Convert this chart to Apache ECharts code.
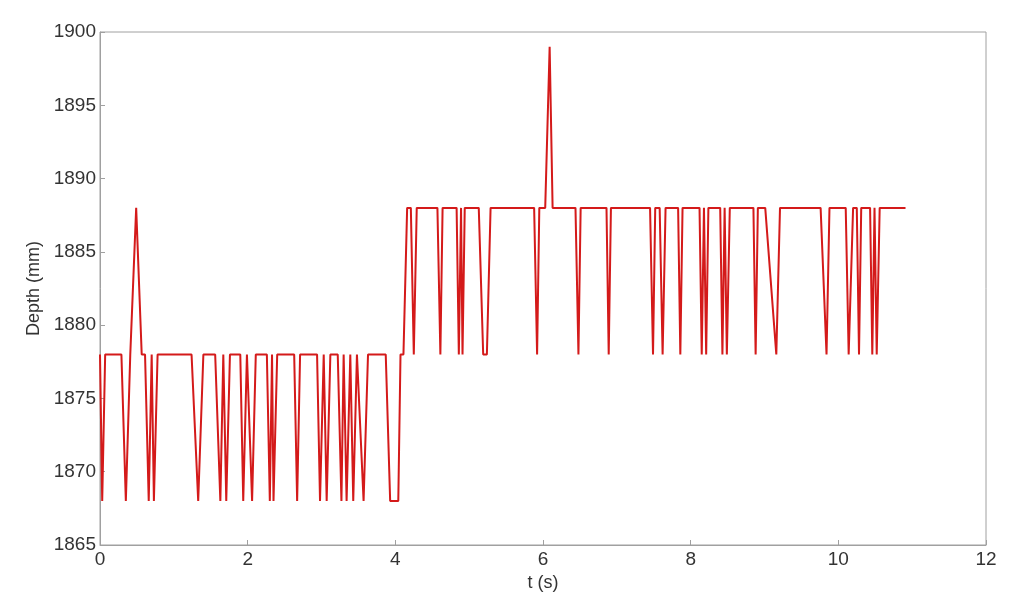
<!DOCTYPE html>
<html>
<head>
<meta charset="utf-8">
<script src="https://cdn.jsdelivr.net/npm/echarts@6/dist/echarts.min.js"></script>
<style>
html,body{margin:0;padding:0;background:#fff;}
#chart{width:1024px;height:615px;}
</style>
</head>
<body>
<div id="chart"></div>
<script>
// Time stamps (s) of the depth signal's sample/turning points
const timeValues = [
  0.00,0.03,0.07,
  0.29,0.35,0.41,0.43,0.49,0.565,0.61,0.66,0.70,0.73,0.78,
  1.24,1.33,1.40,
  1.56,1.63,1.67,1.71,1.76,
  1.90,1.94,1.99,2.06,2.11,
  2.26,2.30,2.33,2.35,2.40,
  2.63,2.67,2.71,
  2.94,2.98,3.03,3.07,3.12,
  3.22,3.27,3.30,3.34,3.39,3.43,3.48,3.57,3.63,
  3.87,3.93,4.04,4.07,4.11,4.16,
  4.21,4.25,4.29,
  4.57,4.61,4.64,
  4.83,4.86,4.89,4.91,4.94,
  5.13,5.19,5.24,5.29,
  5.88,5.92,5.95,
  6.03,6.09,6.13,
  6.44,6.48,6.51,
  6.86,6.89,6.92,
  7.45,7.49,7.52,
  7.58,7.62,7.66,
  7.83,7.86,7.89,
  8.12,8.15,8.18,8.21,8.24,
  8.40,8.43,8.46,8.49,8.53,
  8.85,8.88,8.91,
  9.01,9.16,9.21,
  9.76,9.84,9.88,
  10.10,10.14,10.20,10.25,10.28,10.31,
  10.43,10.46,10.49,10.52,10.56,
  10.91
];
// Depth (mm) at each time stamp
const depthValues = [
  1878,1868,1878,
  1878,1868,1878,1878,1888,1878,1878,1868,1878,1868,1878,
  1878,1868,1878,
  1878,1868,1878,1868,1878,
  1878,1868,1878,1868,1878,
  1878,1868,1878,1868,1878,
  1878,1868,1878,
  1878,1868,1878,1868,1878,
  1878,1868,1878,1868,1878,1868,1878,1868,1878,
  1878,1868,1868,1878,1878,1888,
  1888,1878,1888,
  1888,1878,1888,
  1888,1878,1888,1878,1888,
  1888,1878,1878,1888,
  1888,1878,1888,
  1888,1899,1888,
  1888,1878,1888,
  1888,1878,1888,
  1888,1878,1888,
  1888,1878,1888,
  1888,1878,1888,
  1888,1878,1888,1878,1888,
  1888,1878,1888,1878,1888,
  1888,1878,1888,
  1888,1878,1888,
  1888,1878,1888,
  1888,1878,1888,1888,1878,1888,
  1888,1878,1888,1878,1888,
  1888
];
const xTicks = [0, 2, 4, 6, 8, 10, 12];
const yTicks = [1865, 1870, 1875, 1880, 1885, 1890, 1895, 1900];

const seriesData = timeValues.map((t, i) => [t, depthValues[i]]);

const chart = echarts.init(document.getElementById('chart'), null, {renderer: 'canvas'});
const font = '"Liberation Sans", Arial, sans-serif';
chart.setOption({
  backgroundColor: '#ffffff',
  animation: false,
  grid: {left: 100, right: 38, top: 32, bottom: 70, show: true, borderColor: '#a0a0a0', borderWidth: 1, backgroundColor: 'transparent'},
  xAxis: {
    type: 'value',
    min: xTicks[0], max: xTicks[xTicks.length - 1], interval: 2,
    name: 't (s)', nameLocation: 'middle', nameGap: 19,
    nameTextStyle: {color: '#333', fontSize: 18, fontFamily: font},
    axisLine: {show: true, lineStyle: {color: '#a0a0a0', width: 1}},
    axisTick: {show: true, inside: true, length: 5, lineStyle: {color: '#a0a0a0'}},
    axisLabel: {color: '#333', fontSize: 19, fontFamily: font, margin: 5, formatter: v => String(v)},
    splitLine: {show: false}
  },
  yAxis: {
    type: 'value',
    min: yTicks[0], max: yTicks[yTicks.length - 1], interval: 5,
    name: 'Depth (mm)', nameLocation: 'middle', nameGap: 52, nameRotate: 90,
    nameTextStyle: {color: '#333', fontSize: 18, fontFamily: font},
    axisLine: {show: true, lineStyle: {color: '#a0a0a0', width: 1}},
    axisTick: {show: true, inside: true, length: 5, lineStyle: {color: '#a0a0a0'}},
    axisLabel: {color: '#333', fontSize: 19, fontFamily: font, margin: 4, formatter: v => String(v)},
    splitLine: {show: false}
  },
  series: [{
    type: 'line',
    data: seriesData,
    showSymbol: false,
    symbol: 'none',
    lineStyle: {color: '#d41a1a', width: 2},
    clip: true
  }]
});
</script>
</body>
</html>
